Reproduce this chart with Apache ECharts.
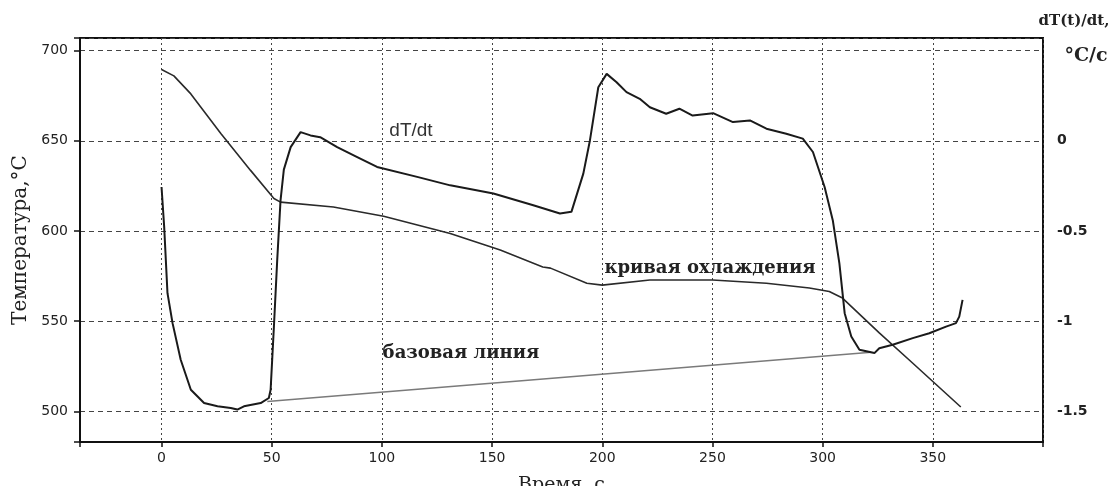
<!DOCTYPE html>
<html><head><meta charset="utf-8">
<script src="https://cdn.jsdelivr.net/npm/echarts@6/dist/echarts.min.js"></script>
<style>html,body{margin:0;padding:0;background:#fff}#c{width:1115px;height:486px}</style>
</head><body><div id="c"></div>
<script>
// Axis ticks (labels shown)
const xTicks = [0, 50, 100, 150, 200, 250, 300, 350];
const leftTicks = [500, 550, 600, 650, 700];
const rightTicks = [-1.5, -1, -0.5, 0];

// Cooling curve (temperature, left axis)
const coolTime = [0, 5.6, 13.3, 26.9, 40.4, 51, 54, 78, 100.8, 131, 153.7, 173, 176.5, 193, 200, 221.6, 250, 274.5, 294, 303, 309, 325.7, 340.8, 362.7];
const coolTemp = [689.5, 686, 676, 654, 633.6, 618, 616, 613.3, 608.2, 598.6, 589.4, 580, 579.4, 571, 570, 572.8, 572.8, 571, 568.4, 566.4, 562.8, 543.5, 526.8, 502.4];

// dT/dt curve (right axis)
const rateTime = [0, 1.2, 2.7, 5, 8.7, 13.3, 19.3, 25.4, 31.4, 34.4, 37.4, 45, 48.7, 49.5, 51, 52.5, 54, 55.5, 58.6, 63.1, 67.6, 72, 79.7, 88.8, 97.8, 116, 131, 150.6, 168.7, 180.8, 186, 191.4, 194.4, 198.2, 202, 206.5, 211, 217, 221.6, 229, 235, 241, 250.3, 259.3, 267, 274.5, 283.5, 291, 295.6, 300.9, 304.6, 307.6, 310, 313, 316.7, 323.5, 325.7, 331.8, 340.9, 348.4, 356, 360.5, 362, 363.5];
const rateVal = [-0.256, -0.477, -0.845, -1.011, -1.214, -1.38, -1.454, -1.472, -1.481, -1.49, -1.472, -1.454, -1.426, -1.38, -1.03, -0.66, -0.33, -0.16, -0.035, 0.048, 0.03, 0.02, -0.035, -0.09, -0.145, -0.2, -0.247, -0.292, -0.357, -0.403, -0.394, -0.182, 0.002, 0.297, 0.371, 0.325, 0.27, 0.233, 0.186, 0.15, 0.178, 0.14, 0.153, 0.104, 0.113, 0.067, 0.039, 0.012, -0.062, -0.256, -0.44, -0.68, -0.956, -1.085, -1.159, -1.177, -1.15, -1.131, -1.094, -1.067, -1.03, -1.011, -0.975, -0.882];

// Base line (right axis)
const baseTime = [48, 322];
const baseVal = [-1.445, -1.173];

const zip = (a, b) => a.map((v, i) => [v, b[i]]);
const near = (arr, v) => arr.some(t => Math.abs(t - v) < 1e-6);

const chart = echarts.init(document.getElementById('c'), null, {renderer: 'canvas'});
const sans = 'DejaVu Sans';
const serif = 'DejaVu Serif';
chart.setOption({
  animation: false,
  backgroundColor: '#fff',
  grid: {left: 80, right: 72, top: 38, bottom: 44, containLabel: false, outerBoundsMode: 'none', show: true, borderColor: '#111', borderWidth: 2, backgroundColor: 'transparent'},
  xAxis: {
    type: 'value', min: -37, max: 400, splitNumber: 9,
    name: 'Время, с', nameLocation: 'middle', nameGap: 34,
    nameTextStyle: {fontFamily: serif, fontSize: 19, color: '#222'},
    axisLine: {show: true, onZero: false, lineStyle: {color: '#111', width: 2}},
    axisTick: {show: true, length: 5, lineStyle: {color: '#111', width: 1.5}},
    axisLabel: {margin: 9, fontFamily: sans, fontSize: 14, color: '#222', formatter: v => near(xTicks, v) ? String(v) : ''},
    splitLine: {show: true, lineStyle: {color: '#444', width: 1, type: [2, 3]}}
  },
  yAxis: [{
    type: 'value', min: 483, max: 707, splitNumber: 5,
    name: 'Температура,°С', nameLocation: 'middle', nameGap: 42,
    nameTextStyle: {fontFamily: serif, fontSize: 20, color: '#222'},
    axisLine: {show: true, onZero: false, lineStyle: {color: '#111', width: 2}},
    axisTick: {show: true, length: 6, lineStyle: {color: '#111', width: 1.5}},
    axisLabel: {margin: 12, fontFamily: sans, fontSize: 14, color: '#222', formatter: v => near(leftTicks, v) ? String(v) : ''},
    splitLine: {show: true, lineStyle: {color: '#444', width: 1, type: [5, 4]}}
  }, {
    type: 'value', min: -1.67, max: 0.57, splitNumber: 5, position: 'right',
    axisLine: {show: false}, axisTick: {show: false}, splitLine: {show: false},
    axisLabel: {margin: 14, fontFamily: sans, fontSize: 14, fontWeight: 'bold', color: '#222',
      formatter: v => near(rightTicks, v) ? String(Math.round(v * 10) / 10) : ''}
  }],
  series: [{
    type: 'line', name: 'cooling', yAxisIndex: 0, data: zip(coolTime, coolTemp),
    showSymbol: false, symbol: 'none', lineStyle: {color: '#2a2a2a', width: 1.6}
  }, {
    type: 'line', name: 'base', yAxisIndex: 1, data: zip(baseTime, baseVal),
    showSymbol: false, symbol: 'none', lineStyle: {color: '#7a7a7a', width: 1.5}
  }, {
    type: 'line', name: 'dTdt', yAxisIndex: 1, data: zip(rateTime, rateVal),
    showSymbol: false, symbol: 'none', lineStyle: {color: '#1a1a1a', width: 2}
  }],
  graphic: [
    {type: 'text', x: 411, y: 131, style: {text: 'dT/dt', font: '19px "Liberation Sans"', fill: '#333', align: 'center', verticalAlign: 'middle'}},
    {type: 'text', x: 710, y: 268, style: {text: 'кривая охлаждения', font: 'bold 18px "DejaVu Serif"', fill: '#222', align: 'center', verticalAlign: 'middle'}},
    {type: 'text', x: 461, y: 353, style: {text: 'базовая линия', font: 'bold 18px "DejaVu Serif"', fill: '#222', align: 'center', verticalAlign: 'middle'}},
    {type: 'text', x: 1074, y: 21, style: {text: 'dT(t)/dt,', font: 'bold 15px "DejaVu Serif"', fill: '#222', align: 'center', verticalAlign: 'middle'}},
    {type: 'text', x: 1086, y: 56, style: {text: '°С/с', font: 'bold 19px "DejaVu Serif"', fill: '#222', align: 'center', verticalAlign: 'middle'}}
  ]
});
</script></body></html>
